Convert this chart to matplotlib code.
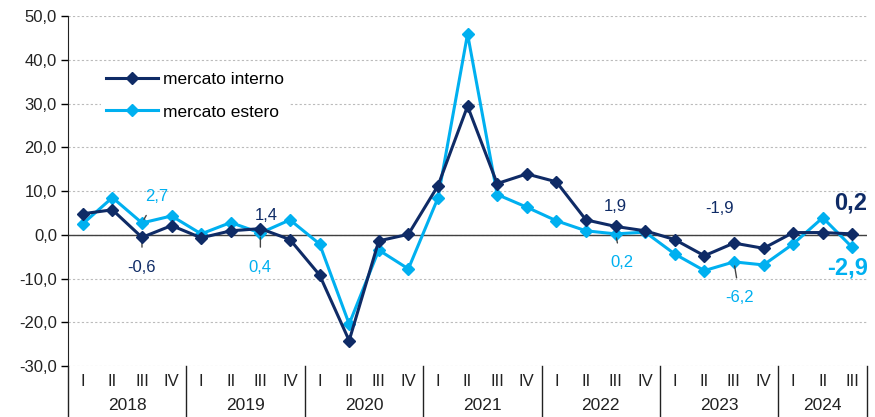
import matplotlib
matplotlib.use("Agg")
import matplotlib.pyplot as plt
import matplotlib.transforms as mtransforms

plt.rcParams['font.family'] = ['Liberation Sans', 'DejaVu Sans']

# dati
anni = ['2018', '2019', '2020', '2021', '2022', '2023', '2024']
trimestri = ['I', 'II', 'III', 'IV'] * 6 + ['I', 'II', 'III']
interno = [4.8, 5.7, -0.6, 2.1, -0.7, 0.9, 1.4, -1.1,
           -9.2, -24.2, -1.4, 0.1, 11.2, 29.4, 11.7, 13.9,
           12.1, 3.4, 1.9, 0.9, -1.1, -4.8, -1.9, -3.1,
           0.5, 0.5, 0.2]
estero = [2.5, 8.5, 2.7, 4.3, 0.2, 2.8, 0.4, 3.4,
          -2.1, -20.4, -3.5, -7.8, 8.4, 45.9, 9.2, 6.3,
          3.2, 0.9, 0.2, 0.6, -4.4, -8.2, -6.2, -6.9,
          -2.1, 3.9, -2.9]

blu = '#0f2b66'
azzurro = '#00b0f0'

fig = plt.figure(figsize=(8.75, 4.17), dpi=100)
ax = fig.add_axes([0.0777, 0.1223, 0.9133, 0.8393])

x = list(range(len(trimestri)))
ax.plot(x, interno, color=blu, lw=2.2, marker='D', ms=6, label='mercato interno', zorder=4)
ax.plot(x, estero, color=azzurro, lw=2.2, marker='D', ms=6, label='mercato estero', zorder=3)

ax.set_xlim(-0.5, len(x) - 0.5)
ax.set_ylim(-30, 50)
ax.set_yticks(range(-30, 51, 10))
ax.set_yticklabels([f"{v},0" for v in range(-30, 51, 10)], fontsize=12, color='#222222')
ax.yaxis.grid(True, linestyle=(0, (2, 2)), color='#bbbbbb', lw=0.8)
ax.set_axisbelow(True)
ax.axhline(0, color='#404040', lw=1, zorder=2)
ax.tick_params(axis='y', length=5, width=1, direction='out', pad=3)

for s in ['top', 'right', 'bottom']:
    ax.spines[s].set_visible(False)
ax.spines['left'].set_color('#222222')
ax.spines['left'].set_bounds(-30, 50)

# asse delle categorie
ax.set_xticks(x)
ax.set_xticklabels(trimestri, fontsize=12, color='#222222')
ax.tick_params(axis='x', length=0, pad=6)
trans = mtransforms.blended_transform_factory(ax.transData, ax.transAxes)
for k, anno in enumerate(anni):
    inizio = 4 * k - 0.5
    fine = min(4 * k + 3.5, len(x) - 0.5)
    ax.text((inizio + fine) / 2, -0.112, anno, transform=trans, ha='center', va='center',
            fontsize=12.5, color='#222222')
    ax.plot([fine, fine], [0, -0.16], transform=trans, color='#222222', lw=1, clip_on=False)
ax.plot([-0.5, -0.5], [0, -0.16], transform=trans, color='#222222', lw=1, clip_on=False)

# etichette
def etichetta(i, serie, testo, xy, colore, linea=True, **kw):
    ax.annotate(testo, xy=(i, serie[i]), xytext=xy, textcoords='data', color=colore,
                ha='center', va='center', fontsize=kw.pop('fontsize', 12),
                arrowprops=dict(arrowstyle='-', color='#444444', lw=1, shrinkA=7, shrinkB=3) if linea else None,
                **kw)

etichetta(2, estero, '2,7', (2.5, 8.7), azzurro)
etichetta(2, interno, '-0,6', (2.0, -7.4), blu)
etichetta(6, interno, '1,4', (6.2, 4.3), blu, linea=False)
etichetta(6, estero, '0,4', (6.0, -7.4), azzurro)
etichetta(18, interno, '1,9', (18.0, 6.5), blu, linea=False)
etichetta(18, estero, '0,2', (18.2, -6.4), azzurro)
etichetta(22, interno, '-1,9', (21.5, 6.0), blu, linea=False)
etichetta(22, estero, '-6,2', (22.2, -14.4), azzurro)
etichetta(26, interno, '0,2', (25.95, 7.3), blu, linea=False, fontsize=17, fontweight='bold')
etichetta(26, estero, '-2,9', (25.85, -7.7), azzurro, linea=False, fontsize=17, fontweight='bold')

leg = ax.legend(loc='upper left', bbox_to_anchor=(0.03, 0.88), frameon=True, fontsize=12.5,
                handlelength=3, handletextpad=0.3, labelspacing=1.0, borderpad=0.3)
leg.get_frame().set_edgecolor('none')
leg.get_frame().set_facecolor('white')
leg.get_frame().set_alpha(1)

fig.savefig('out.png', dpi=100)
